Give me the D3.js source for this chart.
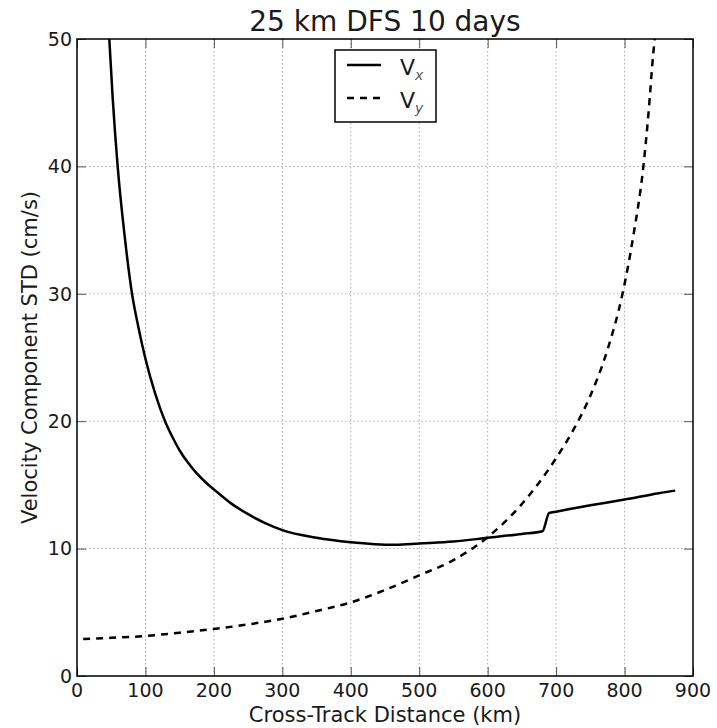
<!DOCTYPE html>
<html>
<head>
  <title>25 km DFS 10 days</title>
  <script src="https://cdnjs.cloudflare.com/ajax/libs/d3/7.8.5/d3.min.js"></script>
  <style>
    body { margin: 0; background: #fff; }
    text { font-family: "DejaVu Sans", sans-serif; fill: #1a1a1a; }
  </style>
</head>
<body>
  <svg width="717" height="728"></svg>
  <script>
    // data
    const xTicks = [0, 100, 200, 300, 400, 500, 600, 700, 800, 900];
    const yTicks = [0, 10, 20, 30, 40, 50];

    // Vx (solid)
    const vxDist = [47.2, 52, 59.4, 69.7, 80.4, 90, 100, 114, 128.6, 140, 150, 162, 175, 187, 200, 225, 250, 275, 300, 350, 400, 465, 500, 550, 600, 650, 680, 690, 700, 750, 800, 850, 874];
    const vxStd  = [50, 45.5, 40, 34.5, 30, 27.3, 24.9, 22.2, 20, 18.7, 17.7, 16.75, 15.9, 15.25, 14.65, 13.55, 12.7, 12.0, 11.45, 10.85, 10.5, 10.3, 10.4, 10.55, 10.85, 11.15, 11.36, 12.8, 12.9, 13.4, 13.85, 14.35, 14.55];

    // Vy (dashed)
    const vyDist = [9, 50, 100, 150, 200, 250, 300, 350, 400, 450, 500, 550, 600, 650, 700, 725, 750, 775, 797, 813, 827.5, 835, 842, 844];
    const vyStd  = [2.9, 3.0, 3.14, 3.4, 3.69, 4.05, 4.5, 5.1, 5.78, 6.75, 7.9, 9.1, 10.9, 13.5, 17.1, 19.3, 22.0, 25.6, 30, 34.6, 40, 44.2, 48.9, 50];

    const svg = d3.select('svg');
    const margin = { top: 39, right: 24, bottom: 52, left: 77 };
    const width = 717 - margin.left - margin.right;
    const height = 728 - margin.top - margin.bottom;

    const x = d3.scaleLinear().domain([0, 900]).range([0, width]);
    const y = d3.scaleLinear().domain([0, 50]).range([height, 0]);

    const g = svg.append('g').attr('transform', `translate(${margin.left},${margin.top})`);

    // grid
    g.append('g').selectAll('line.gx')
      .data(xTicks.slice(1, -1))
      .enter().append('line')
      .attr('x1', d => x(d)).attr('x2', d => x(d))
      .attr('y1', 0).attr('y2', height)
      .attr('stroke', '#aaa').attr('stroke-width', 1).attr('stroke-dasharray', '1.5,2.5');
    g.append('g').selectAll('line.gy')
      .data(yTicks.slice(1, -1))
      .enter().append('line')
      .attr('y1', d => y(d)).attr('y2', d => y(d))
      .attr('x1', 0).attr('x2', width)
      .attr('stroke', '#aaa').attr('stroke-width', 1).attr('stroke-dasharray', '1.5,2.5');

    // curves
    const line = d3.line()
      .x(d => x(d[0]))
      .y(d => y(d[1]))
      .curve(d3.curveMonotoneX);

    g.append('path')
      .datum(d3.zip(vxDist, vxStd))
      .attr('d', line)
      .attr('fill', 'none')
      .attr('stroke', '#000')
      .attr('stroke-width', 2.5);

    g.append('path')
      .datum(d3.zip(vyDist, vyStd))
      .attr('d', line)
      .attr('fill', 'none')
      .attr('stroke', '#000')
      .attr('stroke-width', 2.5)
      .attr('stroke-dasharray', '7,6');

    // inward ticks on all four sides
    const tickLen = 9;
    g.append('g').attr('transform', `translate(0,${height})`)
      .call(d3.axisBottom(x).tickValues(xTicks).tickSize(-tickLen).tickFormat(''));
    g.append('g')
      .call(d3.axisTop(x).tickValues(xTicks).tickSize(-tickLen).tickFormat(''));
    g.append('g')
      .call(d3.axisLeft(y).tickValues(yTicks).tickSize(-tickLen).tickFormat(''));
    g.append('g').attr('transform', `translate(${width},0)`)
      .call(d3.axisRight(y).tickValues(yTicks).tickSize(-tickLen).tickFormat(''));
    g.selectAll('.domain').remove();
    g.selectAll('.tick line').attr('stroke', '#555').attr('stroke-width', 1);

    // tick labels
    g.append('g').selectAll('text')
      .data(xTicks).enter().append('text')
      .attr('x', d => x(d)).attr('y', height + 21)
      .attr('text-anchor', 'middle')
      .style('font-size', '19px')
      .text(d => d);
    g.append('g').selectAll('text')
      .data(yTicks).enter().append('text')
      .attr('x', -5).attr('y', d => y(d))
      .attr('dy', '0.36em')
      .attr('text-anchor', 'end')
      .style('font-size', '19px')
      .text(d => d);

    // frame
    g.append('rect')
      .attr('width', width).attr('height', height)
      .attr('fill', 'none').attr('stroke', '#000').attr('stroke-width', 1.5);

    // legend
    const leg = g.append('g').attr('transform', `translate(${335 - margin.left},${50 - margin.top})`);
    leg.append('rect')
      .attr('width', 101).attr('height', 72)
      .attr('fill', '#fff').attr('stroke', '#000').attr('stroke-width', 1.5);
    const legItems = [
      { sub: 'x', dash: null, y: 15 },
      { sub: 'y', dash: '7,6', y: 48 }
    ];
    legItems.forEach(it => {
      leg.append('line')
        .attr('x1', 12).attr('x2', 46)
        .attr('y1', it.y).attr('y2', it.y)
        .attr('stroke', '#000').attr('stroke-width', 2.5)
        .attr('stroke-dasharray', it.dash);
      const t = leg.append('text')
        .attr('x', 65).attr('y', it.y + 10)
        .style('font-size', '22px');
      t.append('tspan').text('V');
      t.append('tspan')
        .attr('dy', 5)
        .style('font-size', '14px')
        .style('font-style', 'italic')
        .style('fill', '#555')
        .text(it.sub);
    });

    // titles
    svg.append('text')
      .attr('x', margin.left + width / 2).attr('y', 31)
      .attr('text-anchor', 'middle')
      .style('font-size', '28px')
      .text('25 km DFS 10 days');
    svg.append('text')
      .attr('x', margin.left + width / 2).attr('y', 722)
      .attr('text-anchor', 'middle')
      .style('font-size', '21px')
      .text('Cross-Track Distance (km)');
    svg.append('text')
      .attr('transform', `translate(37,${margin.top + height / 2}) rotate(-90)`)
      .attr('text-anchor', 'middle')
      .style('font-size', '21px')
      .text('Velocity Component STD (cm/s)');
  </script>
</body>
</html>
